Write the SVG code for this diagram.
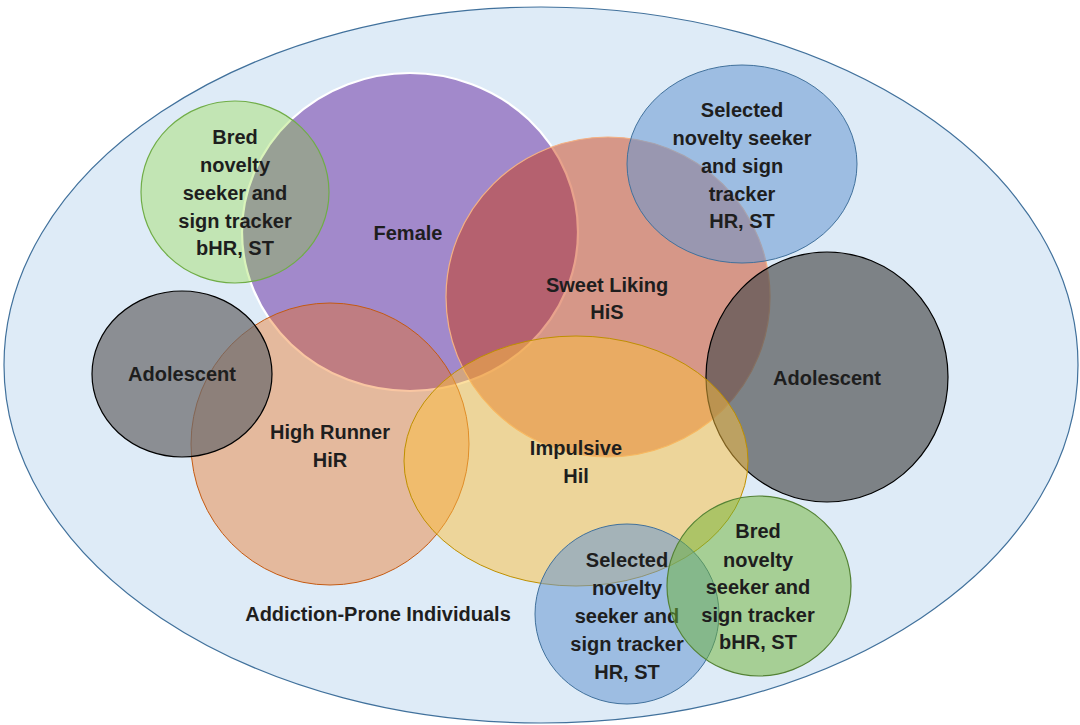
<svg xmlns="http://www.w3.org/2000/svg" width="1080" height="725" viewBox="0 0 1080 725">
<style>
text{font-family:"Liberation Sans",Arial,sans-serif;font-weight:bold;font-size:20px;fill:#1e1e1e;text-anchor:middle}
.outer{fill:#deebf7;stroke:#41719c;stroke-width:1.2}
.female{fill:#a289cb;stroke:#ffffff;stroke-width:2.2}
.hr{fill:#f06a0a;fill-opacity:0.38;stroke:#c55a11;stroke-width:1}
.adoL{fill:#6b6a6c;fill-opacity:0.72;stroke:#000;stroke-width:1.2}
.adoR{fill:#505050;fill-opacity:0.68;stroke:#000;stroke-width:1.2}
.greenT{fill:#81d71b;fill-opacity:0.3;stroke:#70ad47;stroke-width:1.2}
.greenB{fill:#6eb333;fill-opacity:0.5;stroke:#548235;stroke-width:1.2}
.sweet{fill:#cc3000;fill-opacity:0.45;stroke:#f4b183;stroke-width:1.2}
.blue{fill:#6897d1;fill-opacity:0.55;stroke:#41719c;stroke-width:1}
.imp{fill:#fcbf3d;fill-opacity:0.5;stroke:#bf9000;stroke-width:1}
</style>
<g id="addiction-prone">
<ellipse class="outer" cx="541" cy="365" rx="537" ry="358"/>
<text x="378" y="621">Addiction-Prone Individuals</text>
</g>
<g id="female">
<ellipse class="female" cx="410" cy="232" rx="168" ry="159"/>
<text x="408" y="240">Female</text>
</g>
<g id="high-runner">
<ellipse class="hr" cx="330" cy="444" rx="139" ry="141"/>
<text x="330" y="439">High Runner</text>
<text x="330" y="467">HiR</text>
</g>
<g id="adolescent-left">
<ellipse class="adoL" cx="182" cy="374" rx="90" ry="83"/>
<text x="182" y="381">Adolescent</text>
</g>
<g id="bred-top">
<ellipse class="greenT" cx="235" cy="192" rx="94" ry="91"/>
<text x="235" y="144">Bred</text>
<text x="235" y="172">novelty</text>
<text x="235" y="200">seeker and</text>
<text x="235" y="228">sign tracker</text>
<text x="235" y="255">bHR, ST</text>
</g>
<g id="sweet-liking">
<ellipse class="sweet" cx="608" cy="297" rx="162" ry="160"/>
<text x="607" y="292">Sweet Liking</text>
<text x="607" y="319">HiS</text>
</g>
<g id="selected-top">
<ellipse class="blue" cx="742" cy="164" rx="115" ry="99"/>
<text x="742" y="117">Selected</text>
<text x="742" y="145">novelty seeker</text>
<text x="742" y="173">and sign</text>
<text x="742" y="201">tracker</text>
<text x="742" y="228">HR, ST</text>
</g>
<g id="adolescent-right">
<ellipse class="adoR" cx="827" cy="377" rx="121" ry="125"/>
<text x="827" y="385">Adolescent</text>
</g>
<g id="impulsive">
<ellipse class="imp" cx="576" cy="461" rx="172" ry="125"/>
<text x="576" y="455">Impulsive</text>
<text x="576" y="483">Hil</text>
</g>
<g id="selected-bottom">
<ellipse class="blue" cx="627" cy="614" rx="92" ry="90"/>
<text x="627" y="567">Selected</text>
<text x="627" y="595">novelty</text>
<text x="627" y="623">seeker and</text>
<text x="627" y="651">sign tracker</text>
<text x="627" y="679">HR, ST</text>
</g>
<g id="bred-bottom">
<ellipse class="greenB" cx="759" cy="586" rx="92" ry="90"/>
<text x="758" y="538">Bred</text>
<text x="758" y="567">novelty</text>
<text x="758" y="594">seeker and</text>
<text x="758" y="622">sign tracker</text>
<text x="758" y="649">bHR, ST</text>
</g>
<g id="connectors"/>
</svg>
